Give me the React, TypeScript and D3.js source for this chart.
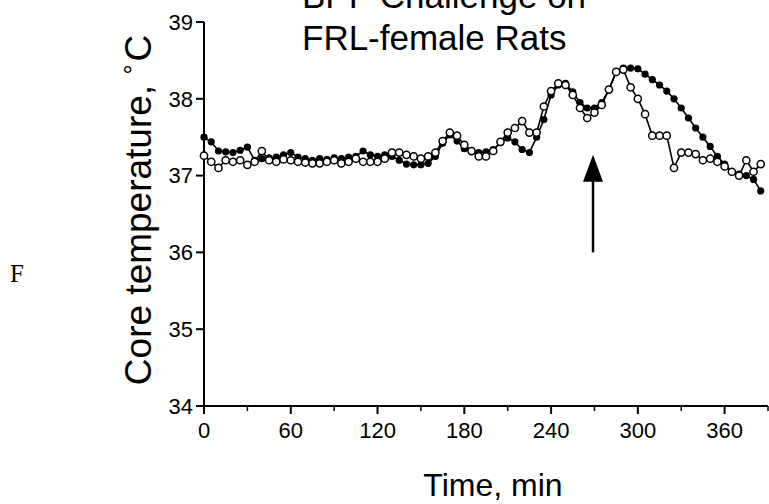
import React from "react";
import * as d3 from "d3";

const times = [
  0, 5, 10, 15, 20, 25, 30, 35, 40, 45, 50, 55, 60, 65, 70, 75, 80, 85, 90, 95,
  100, 105, 110, 115, 120, 125, 130, 135, 140, 145, 150, 155, 160, 165, 170, 175,
  180, 185, 190, 195, 200, 205, 210, 215, 220, 225, 230, 235, 240, 245, 250, 255,
  260, 265, 270, 275, 280, 285, 290, 295, 300, 305, 310, 315, 320, 325, 330, 335,
  340, 345, 350, 355, 360, 365, 370, 375, 380, 385,
];

const filledSeries = [
  37.5, 37.44, 37.32, 37.31, 37.3, 37.33, 37.37, 37.2, 37.22, 37.23, 37.24, 37.27,
  37.3, 37.24, 37.22, 37.2, 37.22, 37.21, 37.23, 37.22, 37.24, 37.25, 37.32, 37.27,
  37.25, 37.27, 37.25, 37.2, 37.15, 37.14, 37.14, 37.16, 37.25, 37.42, 37.53, 37.45,
  37.35, 37.31, 37.3, 37.31, 37.34, 37.43, 37.49, 37.44, 37.34, 37.3, 37.5, 37.73,
  38.05, 38.18, 38.2, 38.09, 37.95, 37.88, 37.88, 37.95, 38.12, 38.35, 38.4, 38.4,
  38.39, 38.32, 38.25, 38.18, 38.1, 38.0, 37.88, 37.75, 37.62, 37.5, 37.38, 37.25,
  37.15, 37.05, 37.02, 37.0, 36.95, 36.8,
];

const openSeries = [
  37.26, 37.18, 37.1, 37.2, 37.18, 37.2, 37.14, 37.18, 37.32, 37.2, 37.18, 37.21,
  37.2, 37.18, 37.17, 37.16, 37.16, 37.18, 37.2, 37.16, 37.18, 37.22, 37.18, 37.18,
  37.18, 37.22, 37.3, 37.3, 37.27, 37.25, 37.22, 37.25, 37.3, 37.45, 37.56, 37.52,
  37.4, 37.32, 37.25, 37.25, 37.32, 37.44, 37.56, 37.62, 37.71, 37.56, 37.56, 37.9,
  38.1, 38.2, 38.18, 38.05, 37.88, 37.75, 37.82, 37.92, 38.12, 38.35, 38.38, 38.15,
  38.0, 37.8, 37.52, 37.52, 37.52, 37.1, 37.3, 37.3, 37.28, 37.2, 37.22, 37.18,
  37.12, 37.05, 37.0, 37.2, 37.05, 37.15,
];

const xTicks = [0, 60, 120, 180, 240, 300, 360];
const xMinorTicks = [30, 90, 150, 210, 270, 330, 390];
const yTicks = [34, 35, 36, 37, 38, 39];

const titleLines = ["BPF Challenge on", "FRL-female Rats"];
const xLabel = "Time, min";
const yLabelMain = "Core temperature, ";
const panelLabel = "F";

const arrowTime = 269;
const arrowTop = 37.27;
const arrowBottom = 36.0;

const W = 769;
const H = 504;

export default function App() {
  const x = d3.scaleLinear().domain([0, 390]).range([204, 768]);
  const y = d3.scaleLinear().domain([34, 39]).range([406, 22]);

  const filled = times.map((t, i) => [t, filledSeries[i]] as [number, number]);
  const open = times.map((t, i) => [t, openSeries[i]] as [number, number]);

  const line = d3
    .line<[number, number]>()
    .x((d) => x(d[0]))
    .y((d) => y(d[1]));

  const font = "'Liberation Sans', Arial, Helvetica, sans-serif";
  const ax = x(0);
  const ay = y(34);

  const arrowX = x(arrowTime);
  const tipY = y(arrowTop);
  const baseY = tipY + 27;
  const botY = y(arrowBottom);

  return (
    <svg
      width={W}
      height={H}
      style={{ position: "absolute", left: 0, top: 0, background: "#fff" }}
    >
      <rect x={0} y={0} width={W} height={H} fill="#fff" />
      <text x={10} y={282} fontFamily="'Liberation Serif', 'Times New Roman', serif" fontSize={25}>
        {panelLabel}
      </text>

      {titleLines.map((t, i) => (
        <text key={i} x={302} y={8 + i * 42} fontFamily={font} fontSize={35} fill="#000">
          {t}
        </text>
      ))}

      <text
        transform={`translate(151, ${(y(34) + y(39)) / 2 - 4}) rotate(-90)`}
        textAnchor="middle"
        fontFamily={font}
        fontSize={37}
        fill="#000"
      >
        {yLabelMain}
        <tspan fontSize={25} dy={-9}>°</tspan>
        <tspan dy={9} dx={3}>C</tspan>
      </text>

      {/* y axis */}
      <line x1={ax} x2={ax} y1={y(39)} y2={ay} stroke="#000" strokeWidth={2} />
      {yTicks.map((v) => (
        <g key={v}>
          <line x1={ax - 8} x2={ax} y1={y(v)} y2={y(v)} stroke="#000" strokeWidth={2} />
          <text
            x={ax - 11}
            y={y(v)}
            dy="0.35em"
            textAnchor="end"
            fontFamily={font}
            fontSize={22}
          >
            {v}
          </text>
        </g>
      ))}

      {/* x axis */}
      <line x1={ax - 8} x2={x(390)} y1={ay} y2={ay} stroke="#000" strokeWidth={2} />
      {xTicks.map((v) => (
        <g key={v}>
          <line x1={x(v)} x2={x(v)} y1={ay} y2={ay + 8} stroke="#000" strokeWidth={2} />
          <text x={x(v)} y={438} textAnchor="middle" fontFamily={font} fontSize={22}>
            {v}
          </text>
        </g>
      ))}
      {xMinorTicks.map((v) => (
        <line key={v} x1={x(v)} x2={x(v)} y1={ay} y2={ay + 5} stroke="#000" strokeWidth={1.5} />
      ))}
      <text x={493} y={496} textAnchor="middle" fontFamily={font} fontSize={32}>
        {xLabel}
      </text>

      {/* filled series */}
      <path d={line(filled) || ""} fill="none" stroke="#000" strokeWidth={1.6} />
      {filled.map((d, i) => (
        <circle key={"f" + i} cx={x(d[0])} cy={y(d[1])} r={3.6} fill="#000" />
      ))}

      {/* open series */}
      <path d={line(open) || ""} fill="none" stroke="#000" strokeWidth={1.6} />
      {open.map((d, i) => (
        <circle
          key={"o" + i}
          cx={x(d[0])}
          cy={y(d[1])}
          r={3.6}
          fill="#fff"
          stroke="#000"
          strokeWidth={1.5}
        />
      ))}

      {/* arrow */}
      <line x1={arrowX} x2={arrowX} y1={baseY - 2} y2={botY} stroke="#000" strokeWidth={2.5} />
      <polygon
        points={`${arrowX},${tipY} ${arrowX - 10},${baseY} ${arrowX + 10},${baseY}`}
        fill="#000"
      />
    </svg>
  );
}
